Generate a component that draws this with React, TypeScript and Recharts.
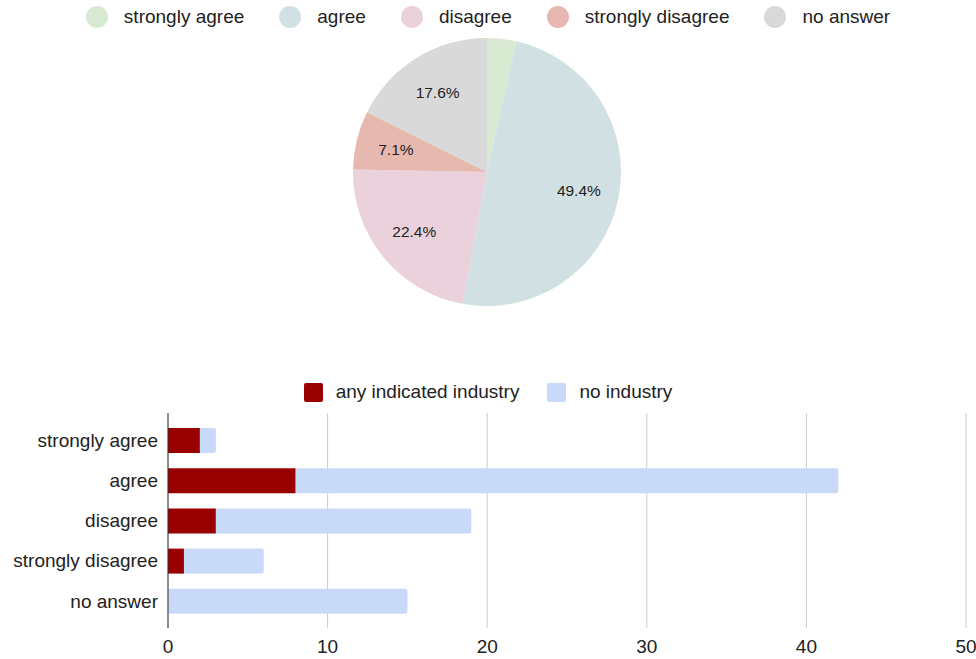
import React from 'react';
import { PieChart, Pie, Cell, BarChart, Bar, XAxis, YAxis, CartesianGrid } from 'recharts';

const answers = ['strongly agree', 'agree', 'disagree', 'strongly disagree', 'no answer'];
const answerCounts = [3, 42, 19, 6, 15];
const answerColors = ['#d9ead3', '#d0e0e3', '#ead1dc', '#e6b8af', '#d9d9d9'];

const industryCounts = [2, 8, 3, 1, 0];
const noIndustryCounts = [1, 34, 16, 5, 15];
const seriesNames = ['any indicated industry', 'no industry'];
const seriesColors = ['#990000', '#c9daf8'];
const xTicks = [0, 10, 20, 30, 40, 50];

const FONT = '"Liberation Sans", Arial, sans-serif';

const pieData = answers.map((name, i) => ({ name, value: answerCounts[i] }));
const barData = answers.map((name, i) => ({ name, industry: industryCounts[i], none: noIndustryCounts[i] }));

const RAD = Math.PI / 180;
const renderPieLabel = (props: any) => {
  const { cx, cy, midAngle, outerRadius, percent } = props;
  if (percent < 0.05) return null;
  const r = outerRadius * 0.7;
  const x = cx + r * Math.cos(-midAngle * RAD);
  const y = cy + r * Math.sin(-midAngle * RAD);
  return (
    <text x={x} y={y} textAnchor="middle" dominantBaseline="central" fill="#222" fontSize={15.5} fontFamily={FONT}>
      {(percent * 100).toFixed(1)}%
    </text>
  );
};

export default function App() {
  return (
    <div style={{ position: 'fixed', left: 0, top: 0, width: 976, height: 659, background: '#fff', fontFamily: FONT }}>
      <div style={{ position: 'absolute', left: 0, top: 0 }}>
        <PieChart width={976} height={340} margin={{ top: 0, right: 0, bottom: 0, left: 0 }}>
          <Pie
            data={pieData}
            dataKey="value"
            nameKey="name"
            cx={487}
            cy={172}
            outerRadius={134}
            startAngle={90}
            endAngle={-270}
            stroke="none"
            label={renderPieLabel}
            labelLine={false}
            isAnimationActive={false}
          >
            {pieData.map((d, i) => (
              <Cell key={d.name} fill={answerColors[i]} />
            ))}
          </Pie>
        </PieChart>
      </div>
      {/* pie legend */}
      <div style={{ position: 'absolute', left: 0, top: 6, width: 976, display: 'flex', justifyContent: 'center', alignItems: 'center', fontSize: 19, color: '#222' }}>
        {answers.map((a, i) => (
          <div key={a} style={{ display: 'flex', alignItems: 'center', marginRight: i < answers.length - 1 ? 35 : 0 }}>
            <span style={{ width: 22, height: 22, borderRadius: 11, background: answerColors[i], display: 'inline-block', marginRight: 16 }} />
            <span>{a}</span>
          </div>
        ))}
      </div>
      <div style={{ position: 'absolute', left: 0, top: 370 }}>
        <BarChart
          width={976}
          height={289}
          data={barData}
          layout="vertical"
          margin={{ top: 43, right: 10, bottom: 0, left: 0 }}
        >
          <CartesianGrid horizontal={false} stroke="#cccccc" />
          <XAxis
            type="number"
            domain={[0, 50]}
            ticks={xTicks}
            axisLine={false}
            tickLine={false}
            height={31}
            tickMargin={6}
            tick={{ fill: '#222', fontSize: 19, fontFamily: FONT }}
            interval={0}
          />
          <YAxis
            type="category"
            dataKey="name"
            width={168}
            axisLine={{ stroke: '#333', strokeWidth: 1 }}
            tickLine={false}
            tickMargin={4}
            padding={{ top: 7, bottom: 7 }}
            tick={{ fill: '#222', fontSize: 19, fontFamily: FONT }}
            interval={0}
          />
          <Bar dataKey="industry" name={seriesNames[0]} stackId="a" fill={seriesColors[0]} barSize={25} isAnimationActive={false} />
          <Bar dataKey="none" name={seriesNames[1]} stackId="a" fill={seriesColors[1]} barSize={25} radius={[0, 2, 2, 0]} isAnimationActive={false} />
        </BarChart>
      </div>
      {/* bar legend */}
      <div style={{ position: 'absolute', left: 0, top: 381, width: 976, display: 'flex', justifyContent: 'center', alignItems: 'center', fontSize: 19, color: '#222' }}>
        {seriesNames.map((s, i) => (
          <div key={s} style={{ display: 'flex', alignItems: 'center', marginRight: i === 0 ? 28 : 0 }}>
            <span style={{ width: 19, height: 19, borderRadius: 2, background: seriesColors[i], display: 'inline-block', marginRight: 13 }} />
            <span>{s}</span>
          </div>
        ))}
      </div>
    </div>
  );
}
